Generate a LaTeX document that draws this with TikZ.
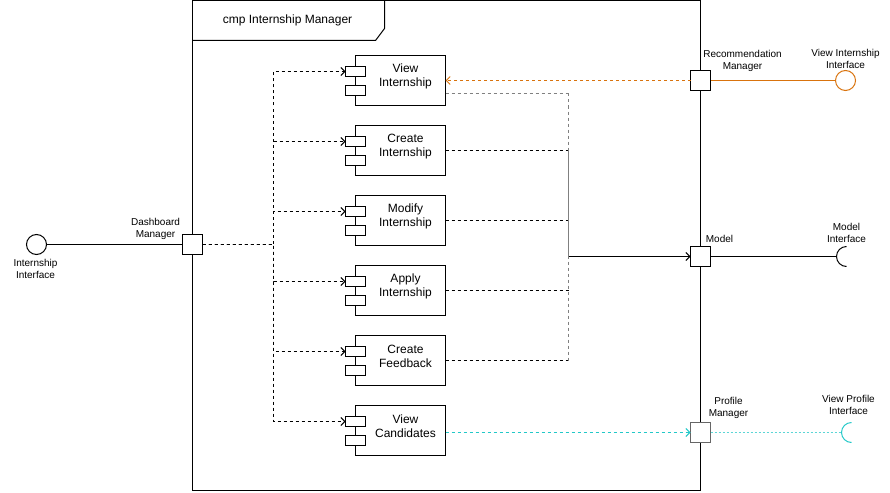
\documentclass[tikz,border=0pt]{standalone}
\usepackage{fontspec}
\setmainfont{Liberation Sans}
\usetikzlibrary{arrows.meta}
\definecolor{orangec}{HTML}{D9730D}
\definecolor{cyanc}{HTML}{22C8C8}
\definecolor{cyanl}{HTML}{5CD6D6}
\definecolor{grayc}{HTML}{808080}
\definecolor{portgray}{HTML}{666666}
\newcommand\mycomp[3]{%
  \node[compbox] (#1) at (400,#2) {};
  \node[comptab] (#1-a) at (355,#2-9) {};
  \node[comptab] (#1-b) at (355,#2+10) {};
  \node[comptext] (#1-t) at (405,#2-4) {#3};
}
\begin{document}
\begin{tikzpicture}[x=1pt,y=-1pt,line width=1pt,
  every node/.style={inner sep=0pt,outer sep=0pt},
  compbox/.style={draw,fill=white,minimum width=90pt,minimum height=50pt},
  comptab/.style={draw,fill=white,minimum width=20pt,minimum height=10pt},
  comptext/.style={align=center,font=\fontsize{12}{14}\selectfont},
  small/.style={align=center,font=\fontsize{10}{12}\selectfont},
  port/.style={draw,fill=white,minimum size=20pt},
  iface/.style={draw,fill=white,circle,minimum size=20pt},
  dep/.style={dash pattern=on 3pt off 3pt},
  graybus/.style={grayc,line width=1.5pt},
  barb/.style={-{Straight Barb[length=4pt,width=8pt]}}]
\useasboundingbox (0,0) rectangle (890,492);
\begin{scope}[shift={(0.5,0.5)}]
% frame
\draw (192,0) rectangle (700,490);
\draw (192,40) -- (375,40) -- (384,28) -- (384,0);
\node[comptext] (title) at (287,20) {cmp Internship Manager};
% components
\mycomp{vi}{80}{View\\Internship}
\mycomp{ci}{150}{Create\\Internship}
\mycomp{mi}{220}{Modify\\Internship}
\mycomp{ai}{290}{Apply\\Internship}
\mycomp{cf}{360}{Create\\Feedback}
\mycomp{vc}{430}{View\\Candidates}
% ports
\node[port] (dm) at (192,244) {};
\node[port] (rm) at (700,80) {};
\node[port] (md) at (700,256) {};
\node[port,draw=portgray] (pm) at (700,432) {};
% interfaces
\node[iface] (ii) at (36,244) {};
\node[iface,draw=orangec] (vii) at (845,80) {};
\coordinate (msock) at (836,256);
\coordinate (psock) at (841,432);
% labels
\node[small] (dml) at (155,228) {Dashboard\\Manager};
\node[small] (iil) at (35,268) {Internship\\Interface};
\node[small] (rml) at (742,60) {Recommendation\\Manager};
\node[small] (viil) at (845,58) {View Internship\\Interface};
\node[small] (mdl) at (719,238) {Model};
\node[small] (mil) at (846,232) {Model\\Interface};
\node[small] (pml) at (728,407) {Profile\\Manager};
\node[small] (vpil) at (848,404) {View Profile\\Interface};
% left bus
\coordinate (lbus) at (273,244);
\foreach \c in {vi,ci,mi,ai,cf,vc}
  \draw[dep,barb] (dm.east) -- (lbus) |- (\c-a.west);
\draw (ii) -- (dm);
% right bus
\coordinate (rbx) at (568,0);
\coordinate (rj) at (568,256);
\coordinate (vio) at ([yshift=12pt]vi.south east);
\draw[dep,graybus] (vio) -- (vio -| rbx);
\foreach \c in {ci,mi,ai,cf}
  \draw[dep] (\c.east) -- (\c.east -| rbx);
\draw[dep,graybus] (vio -| rbx) -- (cf.east -| rbx);
\draw[graybus] (ci.east -| rbx) -- (rj);
\draw[barb] (rj) -- (md.west);
% recommendation
\draw[orangec,dep,barb] (rm.west) -- (vi.east);
\draw[orangec] (rm) -- (vii);
% model
\draw (md.east) -- (msock);
\draw ([yshift=10pt]msock.center) ++(10pt,0pt) arc[start angle=90,end angle=270,radius=10pt];
% profile
\draw[cyanc,dep,barb] (vc.east |- pm.west) -- (pm.west);
\draw[cyanl,dash pattern=on 2pt off 2pt] (pm.east) -- (psock);
\draw[cyanc] ([yshift=10pt]psock.center) ++(10pt,0pt) arc[start angle=90,end angle=270,radius=10pt];
\end{scope}
\end{tikzpicture}
\end{document}
